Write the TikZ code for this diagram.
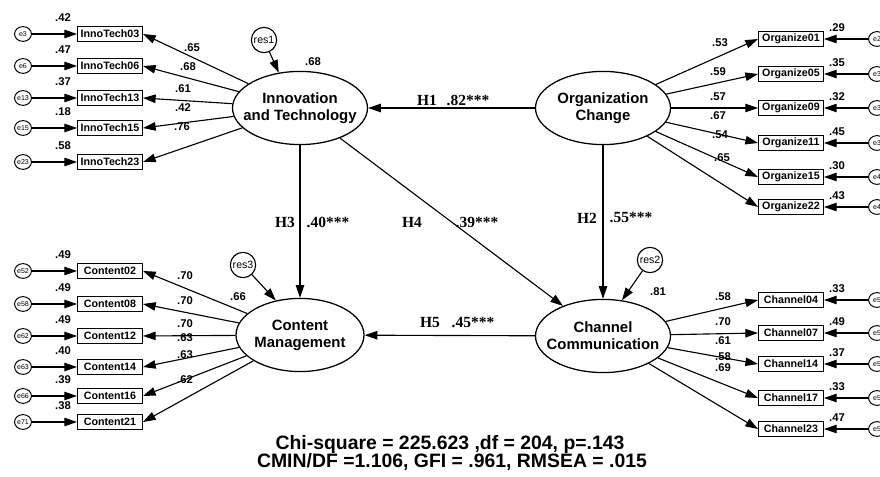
\documentclass[tikz,border=0pt]{standalone}
\usepackage{fontspec}
\setmainfont{Liberation Serif}
\setsansfont{Liberation Sans}
\usetikzlibrary{arrows.meta,shapes.geometric}
\tikzset{
  latent/.style={ellipse,draw,line width=0.9pt,minimum width=96pt,minimum height=52pt,inner xsep=-14pt,inner ysep=0pt,align=center,font=\sffamily\bfseries\fontsize{10.6}{12}\selectfont},
  ind/.style={rectangle,draw,line width=0.9pt,minimum width=46pt,minimum height=10.5pt,inner sep=1pt,font=\sffamily\bfseries\fontsize{7.6}{8}\selectfont},
  err/.style={ellipse,draw,line width=0.7pt,minimum width=12pt,minimum height=10.5pt,inner sep=0pt,font=\sffamily\fontsize{5}{5}\selectfont},
  res/.style={circle,draw,line width=0.8pt,minimum size=18pt,inner sep=0pt,font=\sffamily\fontsize{7.5}{8}\selectfont},
  val/.style={font=\sffamily\bfseries\fontsize{8}{9}\selectfont,inner sep=0pt},
  hyp/.style={font=\bfseries\fontsize{11}{12}\selectfont,inner sep=0pt},
  arr/.style={-{Triangle[length=9pt,width=6pt]},line width=0.8pt},
  fitline/.style={font=\sffamily\bfseries\fontsize{13.8}{14}\selectfont},
}
% indicator on the left: y, name, error, error value, factor, loading, loading position
\def\lind#1#2#3#4#5#6#7{%
  \node[ind] (#2) at (110,#1) {#2};
  \node[err] (#3) at (23,#1) {#3};
  \draw[arr] (#3) -- (#2.west);
  \node[val] (#3v) at (63,#1-16) {#4};
  \draw[arr] (#5) -- (#2.east);
  \node[val] (#2v) at (#7) {#6};}
% indicator on the right (error circle cut by the edge)
\def\rind#1#2#3#4#5#6#7#8{%
  \node[ind] (#2) at (791,#1) {#2};
  \node[err] (#3) at (877,#1) {#4};
  \draw[arr] (#3) -- (#2.east);
  \node[val] (#3v) at (837,#1-11) {#5};
  \draw[arr] (#6) -- (#2.west);
  \node[val] (#2v) at (#8) {#7};}

\begin{document}
\begin{tikzpicture}[x=0.025cm,y=-0.025cm]
	%%%%% START %%%%%
	\useasboundingbox (0,0) rectangle (880,477);
	\clip (0,0) rectangle (880,477);
	
	\node[latent] (it) at (300,108) {Innovation\\and Technology};
	\node[latent] (oc) at (603,108) {Organization\\Change};
	\node[latent,minimum width=91pt] (cm) at (300,335) {Content\\Management};
	\node[latent] (cc) at (603,336) {Channel\\Communication};
	
	\node[res] (res1) at (264,40) {res1};
	\node[res] (res3) at (243,265) {res3};
	\node[res] (res2) at (650,260) {res2};
	\draw[arr] (res1) -- (it.121);
	\draw[arr] (res3) -- (cm.125);
	\draw[arr] (res2) -- (cc.62);
	\node[val] (r1v) at (313,62) {.68};
	\node[val] (r3v) at (238,297) {.66};
	\node[val] (r2v) at (658,292) {.81};
	
	\draw[arr] (oc) -- (it);
	\draw[arr] (oc) -- (cc);
	\draw[arr] (it) -- (cm);
	\draw[arr] (it) -- (cc);
	\draw[arr] (cc) -- (cm);
	
	\node[hyp] (h1) at (427,100) {H1};
	\node[hyp] (h1v) at (468,100) {.82***};
	\node[hyp] (h2) at (587,218) {H2};
	\node[hyp] (h2v) at (631,218) {.55***};
	\node[hyp] (h3) at (285,222) {H3};
	\node[hyp] (h3v) at (328,222) {.40***};
	\node[hyp] (h4) at (412,222) {H4};
	\node[hyp] (h4v) at (477,222) {.39***};
	\node[hyp] (h5) at (430,323) {H5};
	\node[hyp] (h5v) at (473,323) {.45***};
	
	\lind{34}{InnoTech03}{e3}{.42}{it}{.65}{192,48}
	\lind{66}{InnoTech06}{e6}{.47}{it}{.68}{188,67}
	\lind{98}{InnoTech13}{e13}{.37}{it}{.61}{183,89}
	\lind{128}{InnoTech15}{e15}{.18}{it}{.42}{183,108}
	\lind{162}{InnoTech23}{e23}{.58}{it}{.76}{182,127}
	
	\lind{271}{Content02}{e52}{.49}{cm}{.70}{185,276}
	\lind{304}{Content08}{e58}{.49}{cm}{.70}{185,301}
	\lind{336}{Content12}{e62}{.49}{cm}{.70}{185,324}
	\lind{367}{Content14}{e63}{.40}{cm}{.63}{185,338}
	\lind{396}{Content16}{e66}{.39}{cm}{.63}{185,355}
	\lind{422}{Content21}{e71}{.38}{cm}{.62}{185,380}
	
	\rind{39}{Organize01}{eo1}{e2}{.29}{oc}{.53}{720,43}
	\rind{74}{Organize05}{eo5}{e3}{.35}{oc}{.59}{718,72}
	\rind{108}{Organize09}{eo9}{e3}{.32}{oc}{.57}{718,97}
	\rind{143}{Organize11}{eo11}{e3}{.45}{oc}{.67}{718,116}
	\rind{177}{Organize15}{eo15}{e4}{.30}{oc}{.54}{720,135}
	\rind{207}{Organize22}{eo22}{e4}{.43}{oc}{.65}{722,158}
	
	\rind{300}{Channel04}{ec4}{e5}{.33}{cc}{.58}{723,297}
	\rind{333}{Channel07}{ec7}{e5}{.49}{cc}{.70}{723,322}
	\rind{364}{Channel14}{ec14}{e5}{.37}{cc}{.61}{723,341}
	\rind{398}{Channel17}{ec17}{e5}{.33}{cc}{.58}{723,357}
	\rind{429}{Channel23}{ec23}{e5}{.47}{cc}{.69}{723,368}
	
	\node[fitline] (chi) at (450,444) {Chi-square = 225.623 ,df = 204, p=.143};
	\node[fitline] (fit) at (452,462) {CMIN/DF =1.106, GFI = .961, RMSEA = .015};
	
	%%%%% END %%%%%
\end{tikzpicture}
\end{document}
